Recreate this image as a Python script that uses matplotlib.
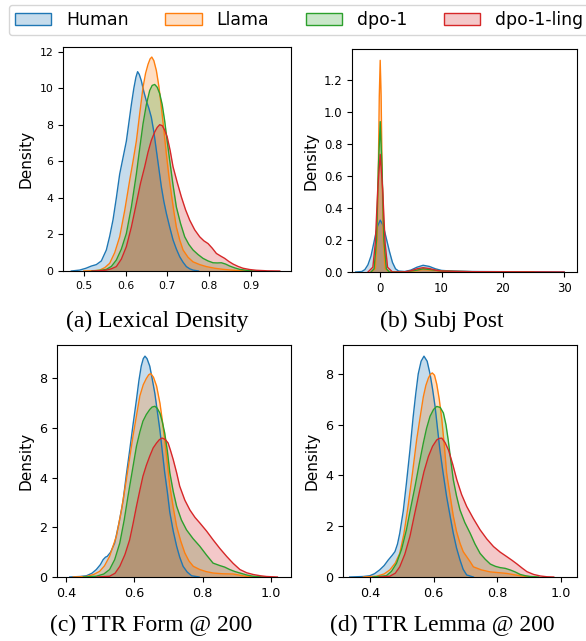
import matplotlib
matplotlib.use("Agg")
import matplotlib.pyplot as plt
from matplotlib.patches import Patch
from matplotlib.colors import to_rgba

# series names and colours
labels = ["Human", "Llama", "dpo-1", "dpo-1-ling"]
colors = ["#1f77b4", "#ff7f0e", "#2ca02c", "#d62728"]
captions = ["(a) Lexical Density", "(b) Subj Post", "(c) TTR Form @ 200", "(d) TTR Lemma @ 200"]

# (a) Lexical Density - density curves
lex_x_human = [0.47, 0.49, 0.505, 0.518, 0.53, 0.542, 0.554, 0.562, 0.57, 0.578, 0.586, 0.594, 0.602, 0.608, 0.614, 0.62, 0.625, 0.629, 0.633, 0.638, 0.644, 0.65, 0.656, 0.662, 0.668, 0.674, 0.68, 0.686, 0.692, 0.698, 0.706, 0.714, 0.722, 0.73, 0.738, 0.746, 0.754, 0.762, 0.775]
lex_y_human = [0.0, 0.05, 0.15, 0.27, 0.35, 0.55, 1.15, 1.9, 2.8, 4.0, 5.3, 6.2, 7.1, 8.1, 9.1, 10.0, 10.6, 10.9, 10.75, 10.4, 9.8, 9.3, 8.9, 8.4, 7.6, 6.6, 5.6, 4.6, 3.8, 3.15, 2.4, 1.7, 1.2, 0.78, 0.48, 0.24, 0.12, 0.05, 0.0]
lex_x_llama = [0.5, 0.525, 0.538, 0.55, 0.562, 0.574, 0.586, 0.598, 0.61, 0.618, 0.626, 0.634, 0.642, 0.648, 0.654, 0.659, 0.663, 0.668, 0.674, 0.68, 0.686, 0.692, 0.698, 0.704, 0.71, 0.716, 0.722, 0.73, 0.738, 0.75, 0.762, 0.778, 0.794, 0.814, 0.834, 0.854, 0.874, 0.9]
lex_y_llama = [0.0, 0.02, 0.05, 0.18, 0.42, 1.0, 1.87, 3.3, 4.96, 6.0, 7.1, 8.6, 10.05, 10.8, 11.3, 11.6, 11.7, 11.5, 10.96, 10.1, 8.96, 7.7, 6.4, 5.2, 4.2, 3.25, 2.4, 1.7, 1.15, 0.75, 0.5, 0.35, 0.24, 0.15, 0.09, 0.05, 0.02, 0.0]
lex_x_dpo = [0.52, 0.542, 0.554, 0.566, 0.578, 0.59, 0.602, 0.614, 0.626, 0.634, 0.642, 0.65, 0.658, 0.664, 0.67, 0.676, 0.682, 0.688, 0.694, 0.7, 0.706, 0.714, 0.722, 0.732, 0.742, 0.752, 0.762, 0.774, 0.786, 0.798, 0.81, 0.82, 0.83, 0.84, 0.85, 0.862, 0.874, 0.89, 0.906, 0.93]
lex_y_dpo = [0.0, 0.04, 0.09, 0.25, 0.6, 1.2, 2.05, 3.5, 5.3, 6.7, 8.05, 9.1, 9.87, 10.15, 10.2, 10.05, 9.7, 9.1, 8.2, 7.1, 6.05, 4.7, 3.5, 2.6, 1.87, 1.45, 1.15, 0.9, 0.69, 0.55, 0.45, 0.44, 0.45, 0.38, 0.27, 0.17, 0.09, 0.04, 0.01, 0.0]
lex_x_ling = [0.52, 0.542, 0.554, 0.566, 0.578, 0.59, 0.602, 0.614, 0.626, 0.636, 0.646, 0.654, 0.662, 0.67, 0.676, 0.682, 0.688, 0.694, 0.7, 0.707, 0.714, 0.724, 0.734, 0.744, 0.754, 0.766, 0.778, 0.788, 0.798, 0.808, 0.818, 0.828, 0.838, 0.848, 0.858, 0.87, 0.882, 0.898, 0.914, 0.94, 0.97]
lex_y_ling = [0.0, 0.02, 0.05, 0.12, 0.24, 0.65, 1.33, 2.4, 3.7, 4.8, 5.7, 6.5, 7.15, 7.6, 7.85, 8.0, 7.95, 7.7, 7.33, 6.6, 5.7, 4.85, 4.05, 3.35, 2.78, 2.25, 1.87, 1.65, 1.5, 1.25, 0.96, 0.82, 0.69, 0.52, 0.38, 0.25, 0.15, 0.08, 0.04, 0.01, 0.0]

# (b) Subj Post
subj_x_human = [-4, -3, -2.5, -2, -1.5, -1, -0.5, 0, 0.5, 1, 1.5, 2, 2.5, 3, 4, 5, 6, 7, 8, 9, 10, 12, 15, 20, 25, 30]
subj_y_human = [0.0, 0.003, 0.015, 0.045, 0.1, 0.19, 0.28, 0.325, 0.29, 0.21, 0.13, 0.06, 0.02, 0.006, 0.003, 0.012, 0.03, 0.042, 0.035, 0.02, 0.01, 0.005, 0.003, 0.002, 0.001, 0.0]
subj_x_llama = [-1.5, -0.8, -0.5, -0.3, -0.15, 0, 0.15, 0.3, 0.5, 0.8, 1.5, 4, 6, 7, 8, 10, 12, 20, 25]
subj_y_llama = [0.0, 0.02, 0.2, 0.65, 1.1, 1.326, 1.1, 0.65, 0.2, 0.02, 0.0, 0.0, 0.008, 0.015, 0.012, 0.005, 0.002, 0.001, 0.0]
subj_x_dpo = [-1.5, -1, -0.6, -0.3, 0, 0.3, 0.6, 1, 1.5, 4, 6, 7, 8, 10, 15, 25]
subj_y_dpo = [0.0, 0.02, 0.2, 0.65, 0.942, 0.65, 0.2, 0.02, 0.0, 0.0, 0.012, 0.02, 0.016, 0.006, 0.002, 0.0]
subj_x_ling = [-2, -1.2, -0.8, -0.4, 0, 0.4, 0.8, 1.2, 2, 4, 5, 6, 7, 8, 9, 10, 15, 25, 30]
subj_y_ling = [0.0, 0.03, 0.18, 0.52, 0.737, 0.52, 0.18, 0.03, 0.0, 0.001, 0.008, 0.02, 0.027, 0.022, 0.012, 0.006, 0.002, 0.001, 0.0]

# (c) TTR Form @ 200
form_x_human = [0.41, 0.44, 0.459, 0.475, 0.488, 0.5, 0.508, 0.515, 0.52, 0.53, 0.542, 0.555, 0.567, 0.576, 0.586, 0.596, 0.606, 0.613, 0.62, 0.626, 0.631, 0.637, 0.645, 0.652, 0.66, 0.667, 0.675, 0.682, 0.689, 0.697, 0.704, 0.714, 0.724, 0.733, 0.743, 0.755, 0.768, 0.79]
form_y_human = [0.0, 0.02, 0.05, 0.15, 0.3, 0.5, 0.7, 0.8, 0.83, 1.0, 1.37, 2.2, 3.1, 4.1, 5.1, 6.15, 7.15, 7.9, 8.5, 8.8, 8.9, 8.8, 8.5, 8.0, 7.4, 6.7, 5.9, 5.05, 4.2, 3.4, 2.6, 1.85, 1.24, 0.8, 0.43, 0.2, 0.05, 0.0]
form_x_llama = [0.42, 0.459, 0.48, 0.498, 0.512, 0.527, 0.547, 0.562, 0.576, 0.586, 0.596, 0.606, 0.616, 0.626, 0.635, 0.642, 0.648, 0.656, 0.665, 0.675, 0.682, 0.689, 0.697, 0.704, 0.714, 0.724, 0.736, 0.748, 0.76, 0.773, 0.792, 0.81, 0.831, 0.86, 0.89, 0.91, 0.93, 0.96]
form_y_llama = [0.0, 0.02, 0.1, 0.23, 0.45, 0.83, 1.64, 2.7, 3.9, 4.8, 5.7, 6.5, 7.3, 7.75, 8.0, 8.15, 8.2, 8.05, 7.7, 7.0, 6.3, 5.5, 4.55, 3.66, 2.8, 2.04, 1.45, 0.97, 0.65, 0.43, 0.3, 0.22, 0.16, 0.13, 0.12, 0.07, 0.02, 0.0]
form_x_dpo = [0.45, 0.488, 0.51, 0.527, 0.542, 0.557, 0.57, 0.581, 0.594, 0.606, 0.616, 0.625, 0.635, 0.645, 0.652, 0.66, 0.667, 0.675, 0.682, 0.689, 0.697, 0.704, 0.714, 0.724, 0.738, 0.753, 0.772, 0.792, 0.812, 0.831, 0.851, 0.865, 0.88, 0.895, 0.91, 0.93, 0.949, 0.98]
form_y_dpo = [0.0, 0.03, 0.12, 0.3, 0.7, 1.37, 2.3, 3.25, 4.3, 5.27, 5.85, 6.28, 6.55, 6.75, 6.85, 6.88, 6.8, 6.6, 6.25, 5.8, 5.05, 4.2, 3.45, 2.85, 2.3, 1.9, 1.55, 1.24, 0.88, 0.56, 0.46, 0.4, 0.3, 0.22, 0.16, 0.08, 0.03, 0.0]
form_x_ling = [0.49, 0.527, 0.543, 0.557, 0.572, 0.586, 0.596, 0.606, 0.616, 0.625, 0.635, 0.645, 0.655, 0.665, 0.673, 0.681, 0.69, 0.699, 0.706, 0.714, 0.724, 0.733, 0.748, 0.763, 0.778, 0.792, 0.812, 0.831, 0.851, 0.871, 0.89, 0.91, 0.93, 0.949, 0.97, 0.988, 1.02]
form_y_ling = [0.0, 0.03, 0.15, 0.43, 0.9, 1.5, 2.15, 2.85, 3.5, 4.06, 4.5, 4.87, 5.2, 5.4, 5.53, 5.6, 5.55, 5.4, 5.1, 4.73, 4.2, 3.66, 3.1, 2.7, 2.4, 2.18, 1.85, 1.5, 1.15, 0.83, 0.55, 0.3, 0.17, 0.1, 0.05, 0.02, 0.0]

# (d) TTR Lemma @ 200
lemma_x_human = [0.337, 0.38, 0.4, 0.415, 0.431, 0.445, 0.458, 0.47, 0.479, 0.487, 0.494, 0.505, 0.515, 0.526, 0.536, 0.544, 0.552, 0.561, 0.57, 0.58, 0.589, 0.597, 0.605, 0.612, 0.62, 0.63, 0.641, 0.652, 0.662, 0.672, 0.683, 0.693, 0.704, 0.725]
lemma_y_human = [0.0, 0.02, 0.05, 0.13, 0.28, 0.45, 0.67, 0.85, 1.0, 1.3, 1.72, 2.6, 3.7, 5.0, 6.3, 7.2, 8.0, 8.5, 8.7, 8.5, 8.0, 7.4, 6.7, 5.9, 5.0, 4.1, 3.17, 2.4, 1.72, 1.15, 0.67, 0.3, 0.08, 0.0]
lemma_x_llama = [0.38, 0.421, 0.445, 0.463, 0.48, 0.494, 0.507, 0.52, 0.534, 0.547, 0.558, 0.568, 0.576, 0.584, 0.59, 0.596, 0.603, 0.61, 0.618, 0.626, 0.634, 0.641, 0.652, 0.662, 0.672, 0.683, 0.693, 0.704, 0.715, 0.725, 0.75, 0.778, 0.805, 0.83, 0.857, 0.883, 0.92]
lemma_y_llama = [0.0, 0.03, 0.12, 0.28, 0.55, 0.93, 1.7, 2.78, 4.1, 5.4, 6.3, 7.1, 7.55, 7.84, 7.98, 8.04, 7.95, 7.6, 7.0, 6.2, 5.15, 4.1, 3.2, 2.4, 1.8, 1.33, 1.0, 0.8, 0.6, 0.4, 0.28, 0.2, 0.17, 0.14, 0.08, 0.03, 0.0]
lemma_x_dpo = [0.41, 0.452, 0.468, 0.484, 0.5, 0.515, 0.528, 0.542, 0.555, 0.568, 0.578, 0.589, 0.6, 0.61, 0.621, 0.631, 0.639, 0.646, 0.654, 0.662, 0.672, 0.683, 0.698, 0.715, 0.73, 0.746, 0.762, 0.778, 0.794, 0.809, 0.825, 0.84, 0.856, 0.872, 0.888, 0.903, 0.93]
lemma_y_dpo = [0.0, 0.05, 0.22, 0.54, 1.1, 1.86, 2.7, 3.57, 4.45, 5.28, 5.85, 6.33, 6.6, 6.72, 6.68, 6.46, 6.0, 5.4, 4.6, 3.83, 3.2, 2.64, 2.15, 1.72, 1.3, 0.93, 0.7, 0.51, 0.42, 0.37, 0.34, 0.28, 0.2, 0.1, 0.05, 0.02, 0.0]
lemma_x_ling = [0.43, 0.463, 0.48, 0.494, 0.51, 0.526, 0.541, 0.557, 0.57, 0.584, 0.597, 0.61, 0.618, 0.626, 0.636, 0.647, 0.66, 0.673, 0.688, 0.704, 0.725, 0.746, 0.767, 0.788, 0.809, 0.83, 0.846, 0.862, 0.878, 0.893, 0.914, 0.935, 0.955, 0.977]
lemma_y_ling = [0.0, 0.03, 0.15, 0.4, 0.9, 1.6, 2.5, 3.43, 4.15, 4.75, 5.15, 5.4, 5.46, 5.47, 5.3, 5.0, 4.45, 3.83, 3.25, 2.78, 2.3, 1.86, 1.5, 1.2, 0.98, 0.8, 0.66, 0.51, 0.35, 0.21, 0.1, 0.04, 0.01, 0.0]

panel_xs = [
    [lex_x_human, lex_x_llama, lex_x_dpo, lex_x_ling],
    [subj_x_human, subj_x_llama, subj_x_dpo, subj_x_ling],
    [form_x_human, form_x_llama, form_x_dpo, form_x_ling],
    [lemma_x_human, lemma_x_llama, lemma_x_dpo, lemma_x_ling],
]
panel_ys = [
    [lex_y_human, lex_y_llama, lex_y_dpo, lex_y_ling],
    [subj_y_human, subj_y_llama, subj_y_dpo, subj_y_ling],
    [form_y_human, form_y_llama, form_y_dpo, form_y_ling],
    [lemma_y_human, lemma_y_llama, lemma_y_dpo, lemma_y_ling],
]

xlims = [(0.45, 0.997), (-4.6, 32.1), (0.3725, 1.06), (0.316, 1.05)]
ylims = [(0, 12.25), (0, 1.397), (0, 9.35), (0, 9.14)]
xticks = [[0.5, 0.6, 0.7, 0.8, 0.9], [0, 10, 20, 30], [0.4, 0.6, 0.8, 1.0], [0.4, 0.6, 0.8, 1.0]]
yticks = [[0, 2, 4, 6, 8, 10, 12], [0.0, 0.2, 0.4, 0.6, 0.8, 1.0, 1.2], [0, 2, 4, 6, 8], [0, 2, 4, 6, 8]]
tick_sizes = [7.8, 8.4, 9.2, 9.2]

W, H = 586, 641
fig = plt.figure(figsize=(W / 100, H / 100), dpi=100)

# axes boxes in pixels: left, top, right, bottom
boxes = [(63, 47, 291, 271), (352, 49, 577, 272), (57, 345, 291, 577), (343, 345, 577, 577)]
caption_pos = [(157, 321), (442, 321), (151, 625), (442, 625)]

for i in range(4):
    l, t, r, b = boxes[i]
    ax = fig.add_axes([l / W, 1 - b / H, (r - l) / W, (b - t) / H])
    for x, y, c in zip(panel_xs[i], panel_ys[i], colors):
        ax.fill_between(x, y, color=c, alpha=0.25, lw=0)
        ax.plot(x, y, color=c, lw=1)
    ax.set_xlim(*xlims[i])
    ax.set_ylim(*ylims[i])
    ax.set_xticks(xticks[i])
    ax.set_yticks(yticks[i])
    ax.tick_params(labelsize=tick_sizes[i])
    ax.set_ylabel("Density", fontsize=11)
    cx, cy = caption_pos[i]
    fig.text(cx / W, 1 - cy / H, captions[i], ha="center", va="center",
             family="Liberation Serif", fontsize=17)

# legend runs off the right edge like in the original
handles = [Patch(facecolor=to_rgba(c, 0.25), edgecolor=c) for c in colors]
fig.legend(handles, labels, loc="upper left", bbox_to_anchor=(9 / W, 1 - 5 / H),
           ncol=4, fontsize=12.4, borderaxespad=0, borderpad=0.35,
           handlelength=2.1, handleheight=0.74, handletextpad=0.87, columnspacing=2.13)

fig.savefig("out.png", dpi=100)
